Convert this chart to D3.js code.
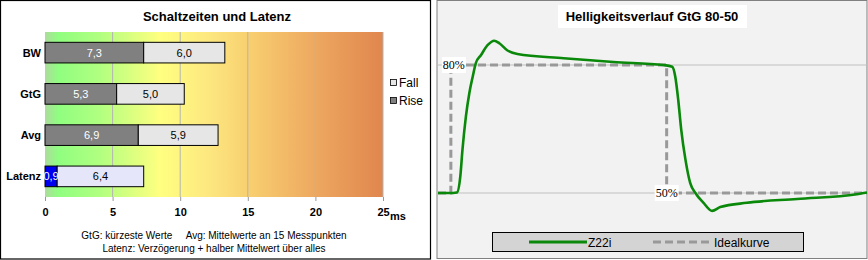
<!DOCTYPE html>
<html>
<head>
<meta charset="utf-8">
<script src="https://cdn.jsdelivr.net/npm/d3@7"></script>
<style>
  body { margin: 0; background: #fff; }
  svg { display: block; font-family: "Liberation Sans", Arial, sans-serif; }
</style>
</head>
<body>
<svg id="chart" width="868" height="260"></svg>
<script>
// left chart data
const categories = ['BW', 'GtG', 'Avg', 'Latenz'];
const riseValues = [7.3, 5.3, 6.9, 0.9];
const fallValues = [6.0, 5.0, 5.9, 6.4];
const xTicks = [0, 5, 10, 15, 20, 25];

// right chart data (time in % of window, brightness in %)
const curveTime = [0, 3.5, 4.4, 5.2, 5.7, 6.5, 7.3, 8.1, 8.8, 10, 11.6, 13.1, 14.3, 16.2, 18.5, 29.3, 40.9, 52.6, 54.6, 55.3, 56, 56.7, 57.7, 58.8, 60, 61.9, 63.9, 65.8, 72, 83.7, 97.6, 100];
const curveZ22i = [50, 50, 50.1, 53.9, 60.1, 67.9, 73.4, 77.3, 80.4, 82.3, 84.7, 85.7, 85.1, 83.4, 82.6, 81.6, 80.7, 80, 79.6, 77.3, 71.8, 64.8, 57.7, 52.3, 50, 47.7, 45.8, 46.7, 47.7, 48.6, 49.7, 50.1];
const idealTime = [0, 3, 3, 53.3, 53.3, 100];
const idealValues = [50, 50, 80, 80, 50, 50];
const levelLabels = ['80%', '50%'];

const svg = d3.select('#chart');
const fmt = v => d3.format('.1f')(v).replace('.', ',');

// ---------- left panel ----------
svg.append('rect')
  .attr('x', 0.5).attr('y', 0.5).attr('width', 430).attr('height', 258.5)
  .attr('fill', '#fff').attr('stroke', '#000').attr('stroke-width', 1.2);

const x = d3.scaleLinear().domain([0, 25]).range([45, 383]);
const y = d3.scaleBand().domain(categories).range([32, 197])
  .paddingInner(0.5).paddingOuter(0.25);

const defs = svg.append('defs');
const grad = defs.append('linearGradient').attr('id', 'bg')
  .attr('x1', '0%').attr('x2', '100%').attr('y1', '0%').attr('y2', '0%');
[[0, '#acdc9c'], [1, '#90fe80'], [4, '#b0ff80'], [8.5, '#ffff80'], [12, '#fde880'],
 [15, '#f8d070'], [20, '#eda860'], [25, '#e0864e']].forEach(([v, c]) => {
  grad.append('stop').attr('offset', (v / 25 * 100) + '%').attr('stop-color', c);
});

svg.append('rect')
  .attr('x', x(0)).attr('y', 32).attr('width', x(25) - x(0)).attr('height', 165)
  .attr('fill', 'url(#bg)');

svg.append('g')
  .selectAll('line')
  .data(xTicks.slice(1))
  .join('line')
  .attr('x1', d => x(d)).attr('x2', d => x(d))
  .attr('y1', 32).attr('y2', 197)
  .attr('stroke', '#b4b4b4').attr('stroke-width', 1);

const xAxis = svg.append('g')
  .attr('transform', 'translate(0,197)')
  .call(d3.axisBottom(x).tickValues(xTicks).tickSize(4).tickPadding(7));
xAxis.select('.domain').remove();
xAxis.selectAll('line').attr('stroke', '#999');
xAxis.selectAll('text')
  .attr('font-family', '"Liberation Sans", Arial, sans-serif')
  .attr('font-size', 11).attr('font-weight', 'bold').attr('fill', '#000');

svg.append('text')
  .attr('x', 390).attr('y', 220)
  .attr('font-size', 11).attr('font-weight', 'bold')
  .text('ms');

const rows = categories.map((c, i) => ({ cat: c, rise: riseValues[i], fall: fallValues[i] }));

const row = svg.append('g').selectAll('g')
  .data(rows)
  .join('g');

row.append('rect')
  .attr('x', d => x(0))
  .attr('y', d => y(d.cat))
  .attr('width', d => x(d.rise) - x(0))
  .attr('height', y.bandwidth())
  .attr('fill', d => d.cat === 'Latenz' ? '#0000f0' : '#808080')
  .attr('stroke', '#000').attr('stroke-width', 1);

row.append('rect')
  .attr('x', d => x(d.rise))
  .attr('y', d => y(d.cat))
  .attr('width', d => x(d.rise + d.fall) - x(d.rise))
  .attr('height', y.bandwidth())
  .attr('fill', d => d.cat === 'Latenz' ? '#e6e6fa' : '#e6e6e6')
  .attr('stroke', '#000').attr('stroke-width', 1);

row.append('text')
  .attr('x', d => (x(0) + x(d.rise)) / 2)
  .attr('y', d => y(d.cat) + y.bandwidth() / 2 + 4)
  .attr('text-anchor', 'middle')
  .attr('font-size', 11).attr('fill', '#fff')
  .text(d => fmt(d.rise));

row.append('text')
  .attr('x', d => (x(d.rise) + x(d.rise + d.fall)) / 2)
  .attr('y', d => y(d.cat) + y.bandwidth() / 2 + 4)
  .attr('text-anchor', 'middle')
  .attr('font-size', 11).attr('fill', '#000')
  .text(d => fmt(d.fall));

row.append('text')
  .attr('x', 41)
  .attr('y', d => y(d.cat) + y.bandwidth() / 2 + 4)
  .attr('text-anchor', 'end')
  .attr('font-size', 11).attr('font-weight', 'bold')
  .text(d => d.cat);

svg.append('text')
  .attr('x', 217).attr('y', 21)
  .attr('text-anchor', 'middle')
  .attr('font-size', 13).attr('font-weight', 'bold')
  .text('Schaltzeiten und Latenz');

const leftLegend = svg.append('g').attr('transform', 'translate(390,0)');
[['Fall', '#e6e6e6', 83], ['Rise', '#808080', 101]].forEach(([label, color, cy]) => {
  leftLegend.append('rect')
    .attr('x', 0.5).attr('y', cy - 3.5).attr('width', 6).attr('height', 6)
    .attr('fill', color).attr('stroke', '#000').attr('stroke-width', 0.8);
  leftLegend.append('text')
    .attr('x', 9).attr('y', cy + 4)
    .attr('font-size', 12)
    .text(label);
});

svg.append('text')
  .attr('x', 214).attr('y', 239)
  .attr('text-anchor', 'middle')
  .attr('font-size', 10)
  .attr('xml:space', 'preserve')
  .text('GtG: kürzeste Werte     Avg: Mittelwerte an 15 Messpunkten');

svg.append('text')
  .attr('x', 214).attr('y', 252)
  .attr('text-anchor', 'middle')
  .attr('font-size', 10)
  .text('Latenz: Verzögerung + halber Mittelwert über alles');

// ---------- right panel ----------
svg.append('rect')
  .attr('x', 437).attr('y', 0.5).attr('width', 430).attr('height', 258)
  .attr('fill', '#f2f2f2').attr('stroke', '#808080').attr('stroke-width', 1);

const tx = d3.scaleLinear().domain([0, 100]).range([438, 867]);
const by = d3.scaleLinear().domain([50, 80]).range([193, 65]);

svg.append('g')
  .selectAll('line')
  .data([80, 50])
  .join('line')
  .attr('x1', tx(0)).attr('x2', tx(100))
  .attr('y1', d => by(d)).attr('y2', d => by(d))
  .attr('stroke', '#c0c0c0').attr('stroke-width', 1);

const line = d3.line()
  .x(d => tx(d[0]))
  .y(d => by(d[1]));

svg.append('path')
  .datum(idealTime.map((t, i) => [t, idealValues[i]]))
  .attr('d', line)
  .attr('fill', 'none')
  .attr('stroke', '#999')
  .attr('stroke-width', 3)
  .attr('stroke-dasharray', '8,4');

svg.append('path')
  .datum(curveTime.map((t, i) => [t, curveZ22i[i]]))
  .attr('d', line.curve(d3.curveMonotoneX))
  .attr('fill', 'none')
  .attr('stroke', '#0a880a')
  .attr('stroke-width', 2.6);

// level labels with white backing
[[levelLabels[0], 3, 80], [levelLabels[1], 53.3, 50]].forEach(([label, t, v]) => {
  const cx = tx(t) + (label === '80%' ? 3 : 0);
  svg.append('rect')
    .attr('x', cx - 12).attr('y', by(v) - 8).attr('width', 24).attr('height', 16)
    .attr('fill', '#fff');
  svg.append('text')
    .attr('x', cx).attr('y', by(v) + 4)
    .attr('text-anchor', 'middle')
    .attr('font-family', '"Liberation Serif", "Times New Roman", serif')
    .attr('font-size', 12)
    .text(label);
});

svg.append('rect')
  .attr('x', 558).attr('y', 5).attr('width', 189).attr('height', 23)
  .attr('fill', '#fff');
svg.append('text')
  .attr('x', 652).attr('y', 21)
  .attr('text-anchor', 'middle')
  .attr('font-size', 13).attr('font-weight', 'bold')
  .text('Helligkeitsverlauf GtG 80-50');

const rightLegend = svg.append('g');
rightLegend.append('rect')
  .attr('x', 492.5).attr('y', 232.5).attr('width', 311).attr('height', 19)
  .attr('fill', '#d4d4d4').attr('stroke', '#000').attr('stroke-width', 1);
rightLegend.append('line')
  .attr('x1', 529).attr('x2', 587).attr('y1', 242).attr('y2', 242)
  .attr('stroke', '#0a880a').attr('stroke-width', 3);
rightLegend.append('text')
  .attr('x', 588).attr('y', 246.5)
  .attr('font-size', 12)
  .text('Z22i');
rightLegend.append('line')
  .attr('x1', 653).attr('x2', 711).attr('y1', 242).attr('y2', 242)
  .attr('stroke', '#999').attr('stroke-width', 3)
  .attr('stroke-dasharray', '8,4');
rightLegend.append('text')
  .attr('x', 714).attr('y', 246.5)
  .attr('font-size', 12)
  .text('Idealkurve');
</script>
</body>
</html>
